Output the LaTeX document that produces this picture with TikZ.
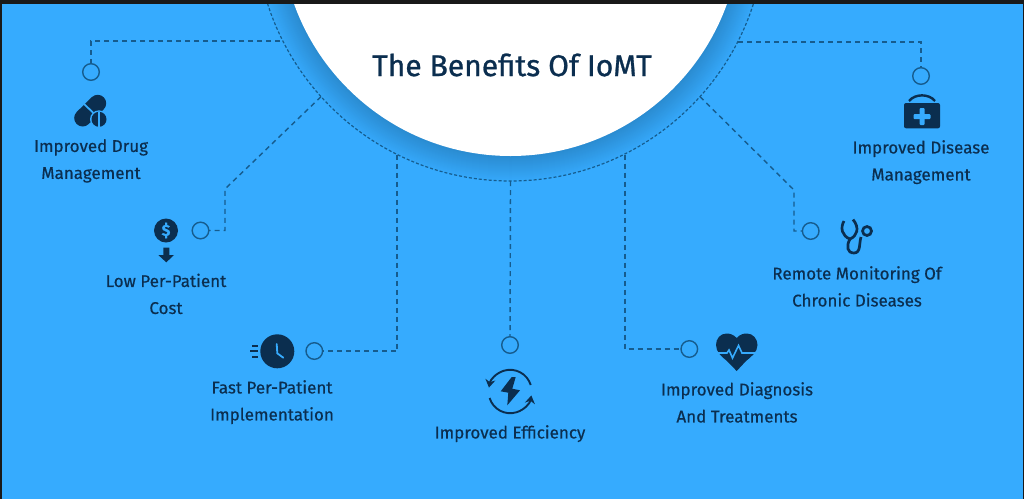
\documentclass[tikz,border=0pt]{standalone}
\usepackage{fontspec}
\setmainfont{Fira Sans}[FakeBold=0.45]
\newfontfamily\titlefont{Fira Sans}[FakeBold=0.9]
\usepackage{xcolor}
\usetikzlibrary{positioning,arrows.meta}
\definecolor{skyback}{HTML}{36ABFE}
\definecolor{ringdark}{HTML}{2A8BD0}
\definecolor{inkblue}{HTML}{0B2E4F}
\definecolor{linkblue}{HTML}{165C8E}

\begin{document}
\begin{tikzpicture}[
    x=1pt, y=-1pt,
    hub/.style={circle, draw=linkblue, line width=1.2pt, dash pattern=on 3pt off 2pt, minimum size=510pt, inner sep=0pt, outer sep=0pt},
    disc/.style={circle, fill=white, minimum size=460pt, inner sep=0pt},
    dotring/.style={circle, draw=linkblue, line width=1.4pt, minimum size=16.6pt, inner sep=0pt, outer sep=0pt},
    link/.style={draw=linkblue, line width=1.4pt, dash pattern=on 5pt off 4pt},
    benefit/.style={align=center, inner sep=0pt, text=inkblue, font=\fontsize{17}{27}\selectfont},
    icon/.style={fill=inkblue, draw=none}
]
\useasboundingbox (0,0) rectangle (1024,499);

% Background and centre
\fill[skyback] (0,0) rectangle (1024,499);
\foreach \r [evaluate=\r as \m using {100-(\r-230)*3.6}] in {255,254,...,231}
    \fill[ringdark!\m!skyback] (510.5,-74) circle[radius=\r pt];
\node[disc] (whitedisc) at (510.5,-74) {};
\node[hub] (ring) at (510.5,-74) {};
\node[text=inkblue, inner sep=0pt, font=\titlefont\fontsize{30}{36}\selectfont] (title) at (512,65) {The Benefits Of IoMT};

% Small rings
\node[dotring] (pillring) at (91,72) {};
\node[dotring] (coinring) at (200.5,230.5) {};
\node[dotring] (clockring) at (314.3,351) {};
\node[dotring] (boltring) at (510,345) {};
\node[dotring] (heartring) at (689.3,349) {};
\node[dotring] (scopering) at (810.7,231) {};
\node[dotring] (kitring) at (921,76) {};

% Icon centres
\coordinate[left=26.2pt of coinring] (coinicon);
\coordinate[left=34pt of clockring] (clockicon);
\coordinate[right=39.4pt of heartring] (hearticon);
\coordinate[right=38pt of scopering] (scopeicon);
\coordinate (coinbend) at (225,189);
\coordinate (scopebend) at (794,190);
\coordinate (pillfoot) at (280,41);
\coordinate (clockfoot) at (397,154.5);
\coordinate (heartfoot) at (625,154.5);
\coordinate (kitfoot) at (738,42);

% Connectors
\draw[link] (pillfoot) -| (pillring);
\draw[link] (ring.222) -- (coinbend) |- (coinring);
\draw[link] (clockfoot) |- (clockring);
\draw[link] (ring.south) -- (boltring);
\draw[link] (heartfoot) |- (heartring);
\draw[link] (ring.318) -- (scopebend) |- (scopering);
\draw[link] (kitfoot) -| (kitring);

% Pills
\draw[inkblue, line width=17pt, line cap=round] (82.7,118) -- (97.7,103.3);
\draw[skyback, line width=1.8pt] (84,104) -- (93.5,113);
\fill[skyback] (99,119.3) circle[radius=9pt];
\fill[icon] (99,119.3) circle[radius=7.5pt];
\draw[skyback, line width=1.5pt] (99,112) -- (99,127);

% Coin
\node[circle, icon, minimum size=24pt, inner sep=0pt, text=skyback, font=\fontsize{16}{16}\selectfont\bfseries] (coin) at (coinicon) {\$};
\fill[icon] (163.3,247.7) -- (169.3,247.7) -- (169.3,255) -- (174,255) -- (166.3,262.3) -- (158.3,255) -- (163.3,255) -- cycle;

% Clock
\fill[icon] (277.3,351.3) circle[radius=17pt];
\draw[skyback, line width=1.8pt, line cap=round] (276.7,344) -- (277.3,353.3) -- (283.3,357.7);
\foreach \ya/\xa in {346/252, 351.3/250, 356.7/252}
    \draw[inkblue, line width=2pt] (\xa,\ya) -- (258,\ya);

% Bolt
\fill[icon] (511.7,377) -- (500.7,391.3) -- (508.3,392.7) -- (507.3,405.3) -- (520,390.3) -- (512.3,388.7) -- (515.7,377) -- cycle;
\draw[inkblue, line width=1.9pt, -{Stealth[length=8pt, width=10pt]}] (530.7,385) arc[start angle=17, end angle=170, radius=21.5pt];
\draw[inkblue, line width=1.9pt, -{Stealth[length=8pt, width=10pt]}] (489.6,398) arc[start angle=197, end angle=350, radius=21.5pt];

% Heart
\fill[icon] (736.7,338) .. controls (733,334) and (729,333.5) .. (726.5,333.5) .. controls (720,333.5) and (716,339) .. (716,345) .. controls (716,352) and (722,357) .. (727,361) -- (736.7,371) -- (746,361) .. controls (751,357) and (757.5,352) .. (757.5,345) .. controls (757.5,339) and (753,333.5) .. (747,333.5) .. controls (744,333.5) and (740,334) .. (736.7,338) -- cycle;
\draw[skyback, line width=1.6pt] (714,353) -- (727,353) -- (729,350) -- (732.5,358) -- (738.5,345.5) -- (742,353) -- (759,353);

% Stethoscope
\draw[inkblue, line width=2.7pt] (844,221) .. controls (840,228) and (842,236) .. (850,239) .. controls (857,236) and (860,228) .. (853,219.5);
\draw[inkblue, line width=2.7pt] (850,239) .. controls (846,246) and (847,253) .. (854,253) .. controls (861,253) and (859,243) .. (861,237);
\draw[inkblue, line width=2.7pt] (867,231) circle[radius=4.5pt];

% Medical kit
\fill[icon, rounded corners=2pt] (904,103) rectangle (940,128.3);
\draw[inkblue, line width=2.4pt] (909,101) .. controls (915,93.5) and (929,93.5) .. (935,101);
\fill[skyback, rounded corners=1pt] (913.5,114.2) rectangle (930.5,119.2);
\fill[skyback, rounded corners=1pt] (919.5,108) rectangle (924.5,125);

% Labels
\node[benefit, below=58.7pt of pillring] (pilltext) {Improved Drug\\Management};
\node[benefit, below=43pt of coinicon] (cointext) {Low Per-Patient\\Cost};
\node[benefit, below=29pt of clockicon] (clocktext) {Fast Per-Patient\\Implementation};
\node[benefit, below=71.7pt of boltring] (bolttext) {Improved Efficiency};
\node[benefit, below=33pt of hearticon] (hearttext) {Improved Diagnosis\\And Treatments};
\node[benefit, below=35pt of scopeicon] (scopetext) {Remote Monitoring Of\\Chronic Diseases};
\node[benefit, below=55.7pt of kitring] (kittext) {Improved Disease\\Management};

% Window edges
\fill[black!90] (0,0) rectangle (1024,4);
\fill[black!90] (0,0) rectangle (1.5,499);
\fill[black!90] (1023,0) rectangle (1024,499);
\end{tikzpicture}
\end{document}
